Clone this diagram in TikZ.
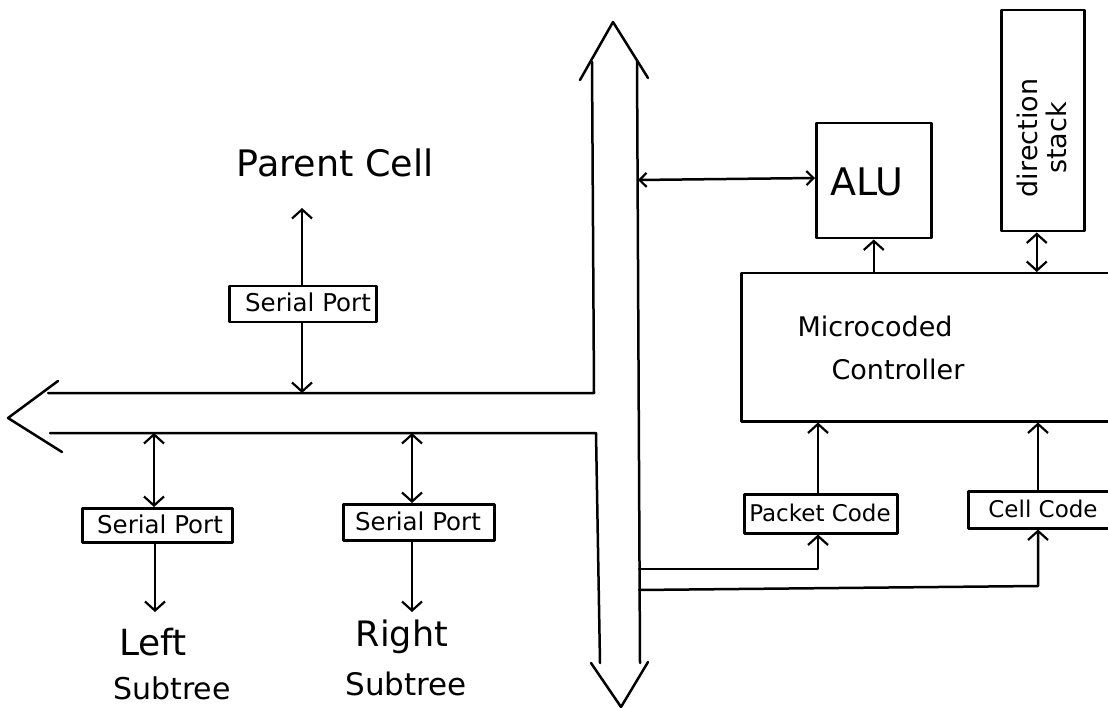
\documentclass[tikz,border=0pt]{standalone}
\usepackage{fontspec}
\setmainfont{DejaVu Sans}
\usetikzlibrary{arrows.meta}
\tikzset{
  hd/.tip={Straight Barb[length=9pt,width=20pt,line width=2.2pt]},
  sd/.tip={Straight Barb[length=7pt,width=14pt,line width=2.2pt]}
}
\begin{document}
\begin{tikzpicture}[x=1pt,y=-1pt,line width=2.5pt,line join=round,line cap=round,
  box/.style={draw,line width=2.5pt,inner sep=0pt,anchor=north west},
  txt/.style={inner sep=0pt,anchor=center},
  tipend/.style={-{hd}},
  tipboth/.style={{hd}-{hd}},
  tipsmall/.style={{sd}-{sd}},
  small/.style={font=\fontsize{24.5}{27}\selectfont}]
\useasboundingbox (0,0) rectangle (1108,708);
\clip (0,0) rectangle (1108,708);

% ---- bus coordinates ----
\coordinate (vtip) at (613,22);
\coordinate (vtl) at (580,80);
\coordinate (vtr) at (648,78);
\coordinate (vl0) at (592,62);
\coordinate (vr0) at (637,60);
\coordinate (hjt) at (594,393);
\coordinate (hjb) at (596,433);
\coordinate (hl0) at (48,393);
\coordinate (hl1) at (50,433);
\coordinate (htip) at (8,418);
\coordinate (hwt) at (58,381);
\coordinate (hwb) at (62,452);
\coordinate (vl1) at (600,663);
\coordinate (vr1) at (640,663);
\coordinate (btip) at (621,707);
\coordinate (bwl) at (591,663);
\coordinate (bwr) at (648,662);

% vertical bus
\draw (vtl) -- (vtip) -- (vtr);
\draw (vl0) -- (hjt) -- (hl0);
\draw (hl1) -- (hjb) -- (vl1);
\draw (vr0) -- (vr1);
\draw (bwl) -- (btip) -- (bwr);
% horizontal bus arrowhead
\draw (hwt) -- (htip) -- (hwb);

% ---- boxes ----
\node[box,minimum width=147pt,minimum height=36pt] (sp0) at (228,285) {};
\node[txt,small] (sp0t) at (308,302) {Serial Port};
\node[box,minimum width=150pt,minimum height=34pt] (sp1) at (81,507) {};
\node[txt,small] (sp1t) at (160,524) {Serial Port};
\node[box,minimum width=151pt,minimum height=36pt] (sp2) at (342,503) {};
\node[txt,small] (sp2t) at (418,521) {Serial Port};

\node[box,minimum width=115pt,minimum height=115pt] (alu) at (815,122) {};
\node[txt,font=\fontsize{38}{40}\selectfont] (alut) at (867,182) {ALU};

\node[box,minimum width=83pt,minimum height=221pt] (dir) at (1000,9) {};
\node[txt,rotate=90,align=center,font=\fontsize{27}{29}\selectfont] (dirt) at (1042,138) {direction\\stack};

\node[box,minimum width=390pt,minimum height=148pt] (ctrl) at (740,272) {};
\node[txt,font=\fontsize{27}{30}\selectfont] (ctrl1) at (875,326) {Microcoded};
\node[txt,font=\fontsize{27}{30}\selectfont] (ctrl2) at (898,369) {Controller};

\node[box,minimum width=153pt,minimum height=39pt] (pk) at (743,493) {};
\node[txt,font=\fontsize{23}{26}\selectfont] (pkt) at (820,513) {Packet Code};
\node[box,minimum width=160pt,minimum height=37pt] (cc) at (967,490) {};
\node[txt,font=\fontsize{23}{26}\selectfont] (cct) at (1043,509) {Cell Code};

% ---- texts ----
\node[txt,font=\fontsize{36.5}{38}\selectfont] (parent) at (335,163) {Parent Cell};
\node[txt,font=\fontsize{36}{38}\selectfont] (left) at (153,642) {Left};
\node[txt,font=\fontsize{30}{32}\selectfont] (lsub) at (172,688) {Subtree};
\node[txt,font=\fontsize{35}{37}\selectfont] (right) at (402,637) {Right};
\node[txt,font=\fontsize{31}{33}\selectfont] (rsub) at (406,684) {Subtree};

% ---- connector end points ----
\coordinate (pcend) at (302,208);
\coordinate (sp0bus) at (302,393);
\coordinate (sp1bus) at (154,433);
\coordinate (sp2bus) at (412,433);
\coordinate (lend) at (155,612);
\coordinate (rend) at (412,612);
\coordinate (alubus) at (638,180);
\coordinate (aluin) at (815,178);
\coordinate (pkbus) at (639,569);
\coordinate (ccbus) at (639,590);
\coordinate (pkx) at (818,569);
\coordinate (ccx) at (1038,586);

% ---- connectors ----
\draw[tipend] (sp0.north -| pcend) -- (pcend);
\draw[tipend] (sp0.south -| sp0bus) -- (sp0bus);
\draw[tipboth] (sp1bus) -- (sp1.north -| sp1bus);
\draw[tipend] (sp1.south -| lend) -- (lend);
\draw[tipboth] (sp2bus) -- (sp2.north -| sp2bus);
\draw[tipend] (sp2.south -| rend) -- (rend);

\draw[tipsmall] (alubus) -- (aluin);
\draw[tipend] (ctrl.north -| alu.south) -- (alu.south);
\draw[tipboth] ([xshift=-6pt]dir.south) -- ([xshift=-6pt]dir.south |- ctrl.north);

\draw[tipend] (pk.north -| pkx) -- (ctrl.south -| pkx);
\draw[tipend] (pkbus) -- (pkx) -- (pk.south -| pkx);
\draw[tipend] (cc.north -| ccx) -- (ctrl.south -| ccx);
\draw[tipend] (ccbus) -- (ccx) -- (cc.south -| ccx);
\end{tikzpicture}
\end{document}
